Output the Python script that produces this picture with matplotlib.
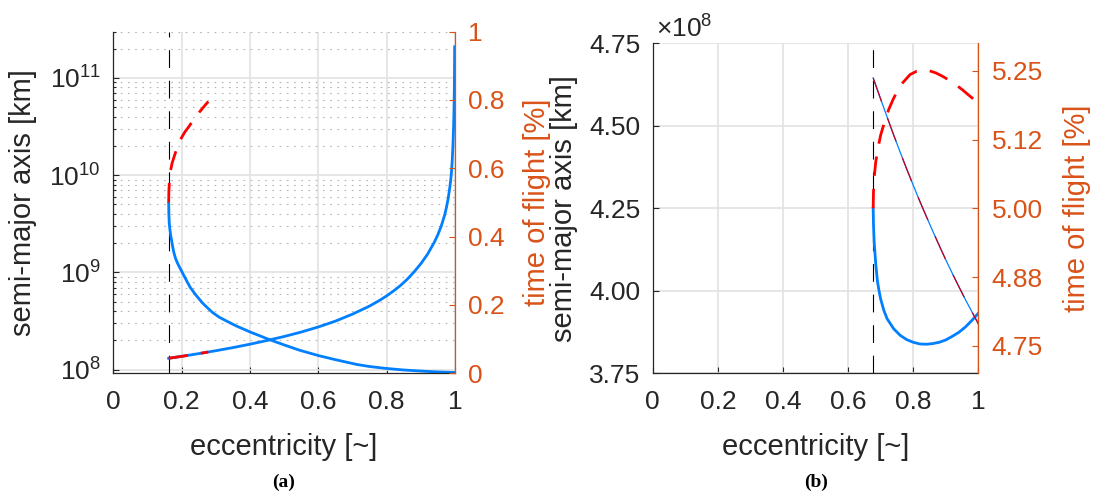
import matplotlib
matplotlib.use("Agg")
import matplotlib.pyplot as plt
from matplotlib.ticker import FixedLocator, FuncFormatter, LogLocator, NullFormatter

plt.rcParams["font.family"] = ["Liberation Sans", "DejaVu Sans"]
plt.rcParams["mathtext.fontset"] = "custom"
plt.rcParams["mathtext.rm"] = "Liberation Sans"
plt.rcParams["mathtext.it"] = "Liberation Sans:italic"
plt.rcParams["mathtext.bf"] = "Liberation Sans:bold"

# ---------------------------------------------------------------- data
ecc_ticks = [0, 0.2, 0.4, 0.6, 0.8, 1]
tof_ticks_a = [0, 0.2, 0.4, 0.6, 0.8, 1]
sma_ticks_b = [3.75e8, 4.00e8, 4.25e8, 4.50e8, 4.75e8]
tof_ticks_b = [4.75, 4.875, 5.0, 5.125, 5.25]

# panel (a): minimum eccentricity
e_min_a = 0.162

# panel (a): rising branch of the semi-major axis [km]
ecc_a_rise = [0.162, 0.20, 0.25, 0.30, 0.35, 0.40, 0.45, 0.50, 0.55, 0.60,
              0.65, 0.70, 0.75, 0.78, 0.80, 0.82, 0.84, 0.86, 0.88, 0.90,
              0.92, 0.94, 0.95, 0.96, 0.97, 0.975, 0.98, 0.985, 0.988, 0.99,
              0.992, 0.994, 0.996, 0.997, 0.998, 0.999]
sma_a_rise = [1.312e8, 1.374e8, 1.466e8, 1.570e8, 1.690e8, 1.832e8, 2.000e8,
              2.198e8, 2.443e8, 2.754e8, 3.162e8, 3.733e8, 4.519e8, 5.188e8,
              5.754e8, 6.457e8, 7.328e8, 8.511e8, 1.012e9, 1.230e9, 1.549e9,
              2.065e9, 2.455e9, 3.020e9, 3.936e9, 4.677e9, 5.754e9, 7.586e9,
              9.333e9, 1.122e10, 1.445e10, 2.042e10, 3.311e10, 4.677e10,
              7.586e10, 2.089e11]

# panel (a): falling branch of the semi-major axis [km]
ecc_a_fall = [0.162, 0.1625, 0.1635, 0.165, 0.1675, 0.170, 0.1735, 0.1775,
              0.182, 0.188, 0.195, 0.20, 0.21, 0.2245, 0.24, 0.26, 0.273,
              0.29, 0.31, 0.332, 0.36, 0.40, 0.454, 0.50, 0.546, 0.60, 0.65,
              0.712, 0.75, 0.795, 0.85, 0.90, 0.95, 1.00]
sma_a_fall = [5.15e9, 3.98e9, 3.31e9, 2.88e9, 2.45e9, 2.19e9, 1.86e9,
              1.585e9, 1.40e9, 1.245e9, 1.11e9, 1.03e9, 8.81e8, 7.08e8,
              5.96e8, 4.90e8, 4.42e8, 3.89e8, 3.47e8, 3.16e8, 2.82e8, 2.45e8,
              2.06e8, 1.80e8, 1.585e8, 1.40e8, 1.27e8, 1.135e8, 1.08e8,
              1.035e8, 9.95e7, 9.7e7, 9.5e7, 9.38e7]

# panel (a): feasible stretch on the rising branch
ecc_a_feas = [0.162, 0.20, 0.25, 0.278]
sma_a_feas = [1.312e8, 1.374e8, 1.466e8, 1.523e8]

# panel (a): time of flight [%]
ecc_a_tof = [0.162, 0.1625, 0.164, 0.167, 0.172, 0.18, 0.19, 0.20, 0.21,
             0.22, 0.23, 0.24, 0.25, 0.26, 0.27, 0.278]
tof_a = [0.500, 0.53, 0.56, 0.59, 0.615, 0.64, 0.67, 0.69, 0.707, 0.72,
         0.735, 0.75, 0.762, 0.774, 0.786, 0.795]

# panel (b): minimum eccentricity
e_min_b = 0.677

# panel (b): semi-major axis [km]
ecc_b_sma = [0.677, 0.678, 0.680, 0.685, 0.690, 0.695, 0.70, 0.71, 0.72,
             0.74, 0.76, 0.78, 0.80, 0.82, 0.84, 0.86, 0.88, 0.90, 0.92,
             0.94, 0.96, 0.98, 1.00]
sma_b = [4.25e8, 4.20e8, 4.15e8, 4.08e8, 4.03e8, 4.00e8, 3.975e8, 3.94e8,
         3.915e8, 3.885e8, 3.865e8, 3.852e8, 3.844e8, 3.839e8, 3.838e8,
         3.840e8, 3.844e8, 3.851e8, 3.862e8, 3.874e8, 3.890e8, 3.910e8,
         3.932e8]

# panel (b): semi-major axis of the reference branch [km]
ecc_b_ref = [0.677, 0.70, 0.72, 0.74, 0.76, 0.78, 0.80, 0.82, 0.84, 0.86,
             0.88, 0.90, 0.92, 0.94, 0.96, 0.98, 1.00]
sma_b_ref = [4.645e8, 4.581e8, 4.526e8, 4.472e8, 4.420e8, 4.369e8, 4.320e8,
             4.272e8, 4.226e8, 4.181e8, 4.137e8, 4.094e8, 4.053e8, 4.013e8,
             3.974e8, 3.937e8, 3.900e8]

# panel (b): time of flight [%]
ecc_b_tof = [0.677, 0.678, 0.680, 0.685, 0.693, 0.70, 0.713, 0.725, 0.739,
             0.76, 0.79, 0.81, 0.83, 0.85, 0.87, 0.89, 0.91, 0.93, 0.95,
             0.97, 0.995]
tof_b = [5.000, 5.030, 5.055, 5.085, 5.113, 5.133, 5.159, 5.180, 5.199,
         5.223, 5.243, 5.249, 5.251, 5.250, 5.246, 5.240, 5.233, 5.225,
         5.216, 5.206, 5.194]

# ---------------------------------------------------------------- style
BLUE = "#0080ff"
RED = "#ff0000"
DARKRED = "#c8001e"
ORANGE = "#d95319"
INK = "#262626"
GRID = "#e2e2e2"
MINOR = "#b5b5b5"
TICK_FS = 19
LABEL_FS = 21


def style_primary(ax):
    ax.spines["top"].set_visible(False)
    ax.spines["right"].set_visible(False)
    for s in ("left", "bottom"):
        ax.spines[s].set_color(INK)
        ax.spines[s].set_linewidth(0.9)
    ax.tick_params(axis="both", which="both", direction="in", colors=INK,
                   labelsize=TICK_FS, width=0.8)
    ax.tick_params(axis="both", which="major", length=4)
    ax.tick_params(axis="both", which="minor", length=2.2)
    ax.tick_params(axis="x", pad=12)
    ax.tick_params(axis="y", pad=9)
    ax.set_axisbelow(True)
    ax.xaxis.set_major_locator(FixedLocator(ecc_ticks))
    ax.xaxis.set_major_formatter(FuncFormatter(lambda v, p: f"{v:g}"))
    ax.set_xlim(0, 1)
    ax.grid(True, which="major", color=GRID, lw=1.2, ls="-")
    ax.set_xlabel("eccentricity [~]", fontsize=LABEL_FS, color=INK)


def style_twin(ax):
    for s in ("top", "left", "bottom"):
        ax.spines[s].set_visible(False)
    ax.spines["right"].set_color(ORANGE)
    ax.spines["right"].set_linewidth(0.9)
    ax.tick_params(axis="y", which="both", direction="in", colors=ORANGE,
                   labelsize=TICK_FS, length=4, width=0.8, pad=9.5)
    ax.set_ylabel("time of flight [%]", fontsize=LABEL_FS, color=ORANGE)


fig = plt.figure(figsize=(10.98, 4.97), dpi=100)

# ---------------------------------------------------------------- panel (a)
ax1 = fig.add_axes([0.1032, 0.2489, 0.3112, 0.6877])
ax1.set_yscale("log")
ax1.set_ylim(9.2e7, 3e11)
style_primary(ax1)
ax1.yaxis.set_major_locator(LogLocator(base=10, numticks=10))
ax1.yaxis.set_minor_locator(LogLocator(base=10, subs=range(2, 10), numticks=50))
ax1.yaxis.set_minor_formatter(NullFormatter())
ax1.grid(True, which="minor", axis="y", color=MINOR, lw=0.8, ls=(0, (1.5, 5)))
ax1.set_ylabel("semi-major axis [km]", fontsize=LABEL_FS, color=INK)
ax1.yaxis.set_label_coords(-0.223, 0.5)
ax1.xaxis.set_label_coords(0.5, -0.174)

ax1.axvline(e_min_a, color="black", lw=0.8, dashes=(16, 11.5), zorder=1.5)
ax1.plot(ecc_a_rise, sma_a_rise, color=BLUE, lw=2.0, zorder=2)
ax1.plot(ecc_a_fall, sma_a_fall, color=BLUE, lw=2.0, zorder=2)
ax1.plot(ecc_a_feas, sma_a_feas, color=RED, lw=2.0, dashes=(7, 4.7), zorder=3)

ax1r = ax1.twinx()
ax1r.set_ylim(0, 1)
style_twin(ax1r)
ax1r.yaxis.set_major_locator(FixedLocator(tof_ticks_a))
ax1r.yaxis.set_major_formatter(FuncFormatter(lambda v, p: f"{v:g}"))
ax1r.yaxis.set_label_coords(1.199, 0.5)
ax1r.plot(ecc_a_tof, tof_a, color=RED, lw=2.0, dashes=(7, 4.7))

# ---------------------------------------------------------------- panel (b)
ax2 = fig.add_axes([0.5945, 0.2489, 0.2965, 0.664])
ax2.set_ylim(3.75e8, 4.75e8)
style_primary(ax2)
ax2.yaxis.set_major_locator(FixedLocator(sma_ticks_b))
ax2.yaxis.set_major_formatter(FuncFormatter(lambda v, p: f"{v / 1e8:.2f}"))
ax2.set_ylabel("semi-major axis [km]", fontsize=LABEL_FS, color=INK)
ax2.yaxis.set_label_coords(-0.2297, 0.5)
ax2.xaxis.set_label_coords(0.5, -0.180)
ax2.text(0.01, 1.017, r"$\times\mathdefault{10^{8}}$", transform=ax2.transAxes,
         ha="left", va="baseline", fontsize=TICK_FS, color=INK)

ax2.axvline(e_min_b, color="black", lw=0.8, dashes=(16, 11.5), zorder=1.5)
ax2.plot(ecc_b_sma, sma_b, color=BLUE, lw=2.0, zorder=2)
ax2.plot(ecc_b_ref, sma_b_ref, color=BLUE, lw=0.9, zorder=2)
ax2.plot(ecc_b_ref, sma_b_ref, color=DARKRED, lw=0.9, dashes=(20, 14), zorder=3)

ax2r = ax2.twinx()
ax2r.set_ylim(4.70, 5.30)
style_twin(ax2r)
ax2r.yaxis.set_major_locator(FixedLocator(tof_ticks_b))
ax2r.yaxis.set_major_formatter(FuncFormatter(lambda v, p: f"{v:.2f}"))
ax2r.yaxis.set_label_coords(1.26, 0.5)
ax2r.plot(ecc_b_tof, tof_b, color=RED, lw=2.0, dashes=(7, 4.7))

# ---------------------------------------------------------------- captions
fig.text(0.2587, 1 - 482 / 497, "(a)", ha="center", va="center",
         family="Liberation Serif", weight="bold", fontsize=14)
fig.text(0.7428, 1 - 482 / 497, "(b)", ha="center", va="center",
         family="Liberation Serif", weight="bold", fontsize=14)

fig.savefig("out.png", dpi=100)
